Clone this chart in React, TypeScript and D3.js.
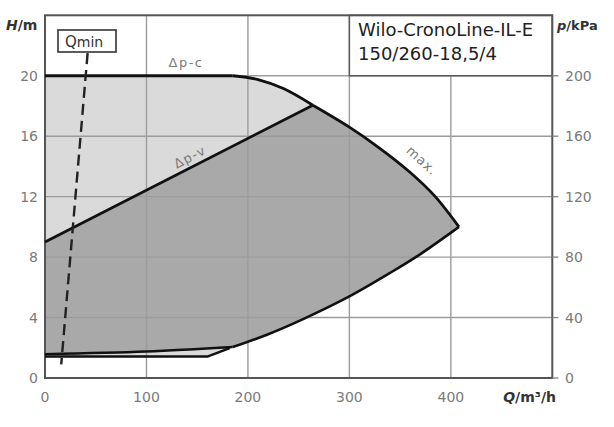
import React from "react";
import * as d3 from "d3";

const W = 614;
const H = 427;

const xTicks = [0, 100, 200, 300, 400];
const yTicks = [0, 4, 8, 12, 16, 20];
const pTicks = [0, 40, 80, 120, 160, 200];
const gridX = [100, 200, 300, 400];
const gridY = [4, 8, 12, 16, 20];

// Δp-c : constant head line
const dpcFlat: [number, number][] = [
  [0, 20],
  [185, 20],
];
// max curve, before and after the Δp-v junction
const maxCurveA: [number, number][] = [
  [185, 20],
  [210, 19.75],
  [235, 19.15],
  [264, 18.05],
];
const maxCurveB: [number, number][] = [
  [264, 18.05],
  [300, 16.6],
  [330, 15.2],
  [360, 13.6],
  [384, 12.05],
  [408, 10.0],
];
// right lower boundary (max flow end)
const endCurve: [number, number][] = [
  [408, 10.0],
  [370, 8.2],
  [340, 6.95],
  [300, 5.4],
  [256, 3.95],
  [220, 2.9],
  [185, 2.05],
];
// Δp-v line
const dpvLine: [number, number][] = [
  [0, 9.0],
  [264, 18.05],
];
// min curve (Δp-v)
const minUpper: [number, number][] = [
  [185, 2.05],
  [100, 1.75],
  [0, 1.58],
];
// min curve (Δp-c)
const minLower: [number, number][] = [
  [182, 1.98],
  [160, 1.42],
  [0, 1.42],
];
const qminLine: [number, number][] = [
  [42, 21.5],
  [16, 0.9],
];

const x = d3.scaleLinear().domain([0, 500]).range([45, 552.3]);
const y = d3.scaleLinear().domain([0, 24]).range([378, 15.3]);
const yp = d3.scaleLinear().domain([0, 240]).range([378, 15.3]);

const straight = d3
  .line<[number, number]>()
  .x((d) => x(d[0]))
  .y((d) => y(d[1]));
const smooth = d3
  .line<[number, number]>()
  .x((d) => x(d[0]))
  .y((d) => y(d[1]))
  .curve(d3.curveCatmullRom.alpha(0.5));

type Seg = { pts: [number, number][]; curve: boolean };

function segPath(s: Seg) {
  return (s.curve ? smooth : straight)(s.pts) || "";
}
function polyPath(segs: Seg[]) {
  return (
    segs
      .map((s, i) => {
        const p = segPath(s);
        return i === 0 ? p : "L" + p.slice(1);
      })
      .join("") + "Z"
  );
}

const lightPath = polyPath([
  { pts: dpcFlat, curve: false },
  { pts: maxCurveA, curve: true },
  { pts: maxCurveB, curve: true },
  { pts: endCurve, curve: true },
  { pts: minLower, curve: false },
]);
const darkPath = polyPath([
  { pts: dpvLine, curve: false },
  { pts: maxCurveB, curve: true },
  { pts: endCurve, curve: true },
  { pts: minUpper, curve: true },
]);

const FONT = "'DejaVu Sans', sans-serif";
const TICK = "#7a7a7a";

export default function App() {
  const dpvAngle =
    (Math.atan2(y(18.05) - y(9), x(264) - x(0)) * 180) / Math.PI;

  return (
    <svg
      width={W}
      height={H}
      style={{ position: "absolute", left: 0, top: 0, background: "#fff" }}
      fontFamily={FONT}
    >
      <rect x={0} y={0} width={W} height={H} fill="#fff" />
      {/* fills */}
      <path d={lightPath} fill="#dadada" />
      <path d={darkPath} fill="#a9a9aa" />

      {/* grid */}
      {gridX.map((v) => (
        <line
          key={"gx" + v}
          x1={x(v)}
          x2={x(v)}
          y1={y(0)}
          y2={y(24)}
          stroke="#9c9c9c"
          strokeWidth={1.4}
        />
      ))}
      {gridY.map((v) => (
        <line
          key={"gy" + v}
          x1={x(0)}
          x2={x(500)}
          y1={y(v)}
          y2={y(v)}
          stroke="#9c9c9c"
          strokeWidth={1.4}
        />
      ))}

      {/* title box */}
      <rect
        x={x(300)}
        y={y(24)}
        width={x(500) - x(300)}
        height={y(20) - y(24)}
        fill="#fff"
        stroke="#5a5a5a"
        strokeWidth={1.5}
      />
      <text x={358} y={36} fontSize={18} fill="#222">
        Wilo-CronoLine-IL-E
      </text>
      <text x={358} y={60} fontSize={18} fill="#222">
        150/260-18,5/4
      </text>

      {/* plot border */}
      <rect
        x={x(0)}
        y={y(24)}
        width={x(500) - x(0)}
        height={y(0) - y(24)}
        fill="none"
        stroke="#555"
        strokeWidth={2}
      />

      {/* curves */}
      <path d={segPath({ pts: dpcFlat, curve: false })} fill="none" stroke="#111" strokeWidth={3.2} />
      <path
        d={segPath({ pts: maxCurveA, curve: true })}
        fill="none"
        stroke="#111"
        strokeWidth={2.8}
      />
      <path
        d={segPath({ pts: maxCurveB, curve: true })}
        fill="none"
        stroke="#111"
        strokeWidth={2.8}
      />
      <path
        d={segPath({ pts: endCurve, curve: true })}
        fill="none"
        stroke="#111"
        strokeWidth={2.6}
      />
      <path d={segPath({ pts: dpvLine, curve: false })} fill="none" stroke="#111" strokeWidth={2.8} />
      <path
        d={segPath({ pts: minUpper, curve: true })}
        fill="none"
        stroke="#111"
        strokeWidth={2.4}
      />
      <path
        d={segPath({ pts: minLower, curve: false })}
        fill="none"
        stroke="#111"
        strokeWidth={2.4}
        strokeLinejoin="round"
      />

      {/* Qmin */}
      <path
        d={segPath({ pts: qminLine, curve: false })}
        fill="none"
        stroke="#222"
        strokeWidth={2.4}
        strokeDasharray="11,6"
      />
      <rect
        x={58}
        y={30}
        width={58}
        height={22}
        fill="#fff"
        stroke="#333"
        strokeWidth={1.6}
      />
      <text x={65} y={47} fontSize={15} fill="#333">
        Q<tspan fontSize={14}>min</tspan>
      </text>

      {/* curve labels */}
      <text
        x={186}
        y={67}
        fontSize={13}
        fill={TICK}
        textAnchor="middle"
        letterSpacing={1.5}
      >
        Δp-c
      </text>
      <text
        transform={`translate(192,161) rotate(${dpvAngle})`}
        fontSize={13}
        fill={TICK}
        textAnchor="middle"
        letterSpacing={1.2}
      >
        Δp-v
      </text>
      <text
        transform={`translate(419,164) rotate(42)`}
        fontSize={13}
        fill={TICK}
        textAnchor="middle"
        letterSpacing={1}
      >
        max.
      </text>

      {/* left ticks */}
      {yTicks.map((v) => (
        <text
          key={"yl" + v}
          x={38}
          y={y(v)}
          dy="0.36em"
          fontSize={14}
          fill={TICK}
          textAnchor="end"
        >
          {v}
        </text>
      ))}
      {/* bottom ticks */}
      {xTicks.map((v) => (
        <text
          key={"xl" + v}
          x={x(v)}
          y={402}
          fontSize={14}
          fill={TICK}
          textAnchor="middle"
        >
          {v}
        </text>
      ))}
      {/* right ticks */}
      {pTicks.map((v) => (
        <g key={"pr" + v}>
          <line
            x1={x(500)}
            x2={x(500) + 6}
            y1={yp(v)}
            y2={yp(v)}
            stroke="#888"
            strokeWidth={1.4}
          />
          <text
            x={565}
            y={yp(v)}
            dy="0.36em"
            fontSize={14}
            fill={TICK}
            textAnchor="start"
          >
            {v}
          </text>
        </g>
      ))}

      {/* axis titles */}
      <text x={6} y={30} fontSize={14} fill="#333" fontWeight="bold">
        <tspan fontStyle="italic">H</tspan>/m
      </text>
      <text x={557} y={30} fontSize={13} fill="#333" fontWeight="bold">
        <tspan fontStyle="italic">p</tspan>/kPa
      </text>
      <text
        x={556}
        y={402}
        fontSize={14}
        fill="#333"
        fontWeight="bold"
        textAnchor="end"
      >
        <tspan fontStyle="italic">Q</tspan>/m³/h
      </text>
    </svg>
  );
}
